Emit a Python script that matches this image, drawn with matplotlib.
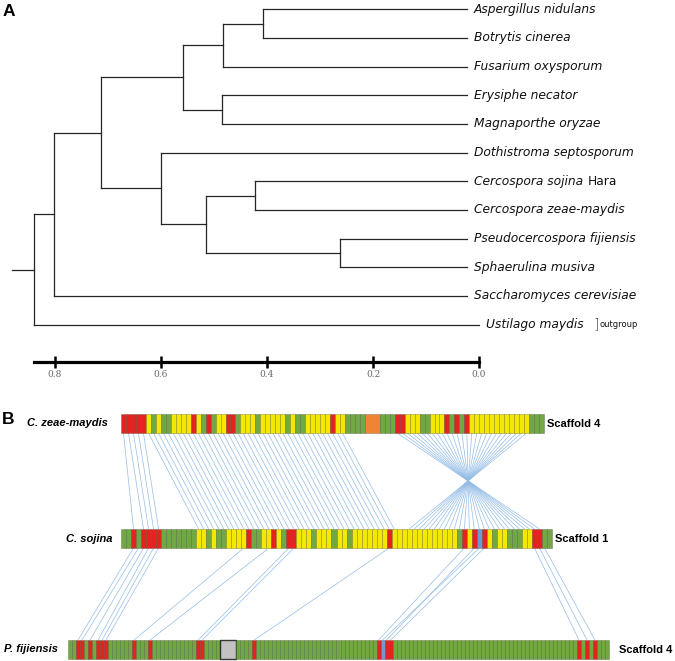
import numpy as np
import matplotlib.pyplot as plt
from matplotlib.collections import LineCollection

W, H = 675, 661
fig = plt.figure(figsize=(W / 100, H / 100), dpi=100)

# ---------------- panel A data ----------------
species = ["Aspergillus nidulans", "Botrytis cinerea", "Fusarium oxysporum",
           "Erysiphe necator", "Magnaporthe oryzae", "Dothistroma septosporum",
           "Cercospora sojina", "Cercospora zeae-maydis",
           "Pseudocercospora fijiensis", "Sphaerulina musiva",
           "Saccharomyces cerevisiae", "Ustilago maydis"]

# internal node -> (child, child, depth)
nodes = {
    "AB": ("Aspergillus nidulans", "Botrytis cinerea", 0.385),
    "ABF": ("AB", "Fusarium oxysporum", 0.459),
    "EM": ("Erysiphe necator", "Magnaporthe oryzae", 0.461),
    "ABFEM": ("ABF", "EM", 0.535),
    "CC": ("Cercospora sojina", "Cercospora zeae-maydis", 0.399),
    "PS": ("Pseudocercospora fijiensis", "Sphaerulina musiva", 0.240),
    "CCPS": ("CC", "PS", 0.492),
    "DCCPS": ("Dothistroma septosporum", "CCPS", 0.576),
    "core": ("ABFEM", "DCCPS", 0.690),
    "asco": ("core", "Saccharomyces cerevisiae", 0.778),
    "root": ("asco", "Ustilago maydis", 0.816),
}
root_stub = 0.858
leaf_end = {"Ustilago maydis": -0.023}

scale_ticks = [0.8, 0.6, 0.4, 0.2, 0.0]
scale_labels = ["0.8", "0.6", "0.4", "0.2", "0.0"]

# ---------------- panel B data ----------------
# one letter per gene slot; O / X runs are one wide block
seq_czm = ("RRRRR" "YGYGG" "YYYY" "R" "Y" "G" "R" "G" "YY" "RR" "G" "YYY" "G"
           "YYYYY" "G" "Y" "GG" "YYYYY" "R" "Y" "Y" "GGGG" "OOO" "GGG" "RR"
           "YYY" "GG" "YYY" "R" "G" "R" "G" "R" "YYYYYYYYYYYY" "GGG")
seq_cs = ("GG" "R" "G" "RRRR" "GGGGGGG" "YY" "G" "Y" "GG" "YYYY" "R" "GG" "YY"
          "R" "Y" "G" "RR" "Y" "YY" "G" "YYY" "G" "YY" "G" "YY" "YYYYY" "R"
          "YYYYYYYYYYYYY" "G" "R" "Y" "R" "B" "R" "Y" "G" "YY" "GGG" "YY" "RR" "GG")
seq_pf = ("GG" "RR" "G" "R" "G" "RRR" "GGGGGG" "R" "GGG" "R" + "G" * 11 + "RR"
          "GGGG" "XXXX" "GGGG" "R" + "G" * 30 + "R" "B" "RR" + "G" * 46 +
          "R" "G" "R" "G" "R" "GGG")

# syntenic links (slot in upper track, slot in lower track)
links_czm_cs = ([(0, 2), (1, 4), (2, 5), (3, 6), (4, 7)]
                + [(t, t + 10) for t in range(5, 45)]
                + [(t, 138 - t) for t in range(55, 82)])
links_cs_pf = [(2, 2), (3, 3), (4, 5), (5, 7), (6, 8), (7, 9), (24, 16), (29, 20),
               (33, 32), (34, 33), (53, 46), (68, 77), (70, 79), (71, 78),
               (72, 80), (82, 127), (83, 129), (84, 131)]

colors = {"R": "#e42320", "Y": "#f4e800", "G": "#70a944", "O": "#ee8434",
          "B": "#6e9ad6", "X": "#c2c2c2"}
merged = "OX"

# ---------------- panel A: tree ----------------
ax = fig.add_axes([0, 1 - 340 / H, 1, 340 / H])
ax.set_xlim(466.7 / 530, (466.7 - W) / 530)
ax.set_ylim((340 - 9.3) / 28.67, -9.3 / 28.67)
ax.axis("off")

pos = {s: (leaf_end.get(s, 0.0), i) for i, s in enumerate(species)}
lc = "#262626"
for name, (a, b, d) in nodes.items():
    (xa, ya), (xb, yb) = pos[a], pos[b]
    ax.plot([d, d], [ya, yb], color=lc, lw=0.9, solid_capstyle="projecting")
    ax.plot([xa, d], [ya, ya], color=lc, lw=0.9)
    ax.plot([xb, d], [yb, yb], color=lc, lw=0.9)
    pos[name] = (d, (ya + yb) / 2)
ax.plot([root_stub, pos["root"][0]], [pos["root"][1]] * 2, color=lc, lw=0.9)

for i, s in enumerate(species):
    x = pos[s][0]
    t = ax.annotate(s, (x, i), xytext=(5.3, 0), textcoords="offset points",
                    va="center", ha="left", fontsize=8.8, style="italic",
                    color="#111")
    if s == "Cercospora sojina":
        ax.annotate("Hara", (1, 0.5), xycoords=t, xytext=(3, 0),
                    textcoords="offset points", va="center", ha="left",
                    fontsize=8.8, color="#111")
    if s == "Ustilago maydis":
        ax.annotate("]", (1, 0.5), xycoords=t, xytext=(7, 0.5),
                    textcoords="offset points", va="center", ha="left",
                    fontsize=10, color="#333", fontweight="light")
        ax.annotate("outgroup", (1, 0.5), xycoords=t, xytext=(11.5, 0),
                    textcoords="offset points", va="center", ha="left",
                    fontsize=6, color="#111")

fig.text(9 / W, 1 - 12 / H, "A", fontsize=12.5, fontweight="bold",
         family="Liberation Sans", ha="center", va="center")

# scale bar
axs = fig.add_axes([0, 1 - 400 / H, 1, 60 / H])
axs.set_xlim(479 / 530, (479 - W) / 530)
axs.set_ylim(0, 1)
for sp in ["top", "left", "right"]:
    axs.spines[sp].set_visible(False)
axs.spines["bottom"].set_position(("axes", (400 - 362) / 60))
axs.spines["bottom"].set_bounds(0.0, 0.84)
axs.spines["bottom"].set_linewidth(2.3)
axs.set_yticks([])
axs.set_xticks(scale_ticks)
axs.set_xticklabels(scale_labels, family="DejaVu Serif")
axs.tick_params(axis="x", direction="inout", length=8, width=1.8,
                labelsize=6.5, labelcolor="#666", pad=1.5)
axs.patch.set_visible(False)

# ---------------- panel B: synteny ----------------
axb = fig.add_axes([0, 0, 1, (H - 380) / H])
axb.set_xlim(0, W)
axb.set_ylim(H, 380)
axb.axis("off")

tracks = [
    dict(seq=seq_czm, x0=121, unit=423 / 85, y0=414, name="C. zeae-maydis",
         scaffold="Scaffold 4", name_x=108, scaf_gap=3),
    dict(seq=seq_cs, x0=121, unit=431 / 86, y0=529, name="C. sojina",
         scaffold="Scaffold 1", name_x=112, scaf_gap=3),
    dict(seq=seq_pf, x0=68, unit=541 / 135, y0=640, name="P. fijiensis",
         scaffold="Scaffold 4", name_x=58, scaf_gap=10),
]
bar_h = 19

for tr in tracks:
    seq = tr["seq"]
    lefts, widths, cols = [], [], []
    i = 0
    while i < len(seq):
        c = seq[i]
        n = 1
        if c in merged:
            while i + n < len(seq) and seq[i + n] == c:
                n += 1
        lefts.append(i)
        widths.append(n)
        cols.append(c)
        i += n
    lefts = tr["x0"] + np.array(lefts) * tr["unit"]
    widths = np.array(widths) * tr["unit"]
    edge = [(0.1, 0.1, 0.1, 0.85) if c == "X" else (0.15, 0.15, 0.05, 0.35) for c in cols]
    lw = [1.0 if c == "X" else 0.5 for c in cols]
    axb.bar(lefts, bar_h, width=widths, bottom=tr["y0"], align="edge",
            color=[colors[c] for c in cols], edgecolor=edge, linewidth=lw)
    x_end = tr["x0"] + len(seq) * tr["unit"]
    axb.text(tr["name_x"], tr["y0"] + bar_h / 2, tr["name"], ha="right",
             va="center", family="Liberation Sans", fontsize=8,
             fontweight="bold", style="italic")
    axb.text(x_end + tr["scaf_gap"], tr["y0"] + bar_h / 2 + 0.5, tr["scaffold"],
             ha="left", va="center", family="Liberation Sans", fontsize=8,
             fontweight="bold")


def slot_x(tr, k):
    return tr["x0"] + (k + 0.5) * tr["unit"]


segs = []
for (up, lo, pairs) in [(tracks[0], tracks[1], links_czm_cs),
                        (tracks[1], tracks[2], links_cs_pf)]:
    for a, b in pairs:
        segs.append([(slot_x(up, a), up["y0"] + bar_h),
                     (slot_x(lo, b), lo["y0"])])
axb.add_collection(LineCollection(segs, colors="#93bce6", linewidths=0.5, zorder=0))

fig.text(8 / W, 1 - 420 / H, "B", fontsize=12.5, fontweight="bold",
         family="Liberation Sans", ha="center", va="center")

fig.savefig("out.png", dpi=100)
